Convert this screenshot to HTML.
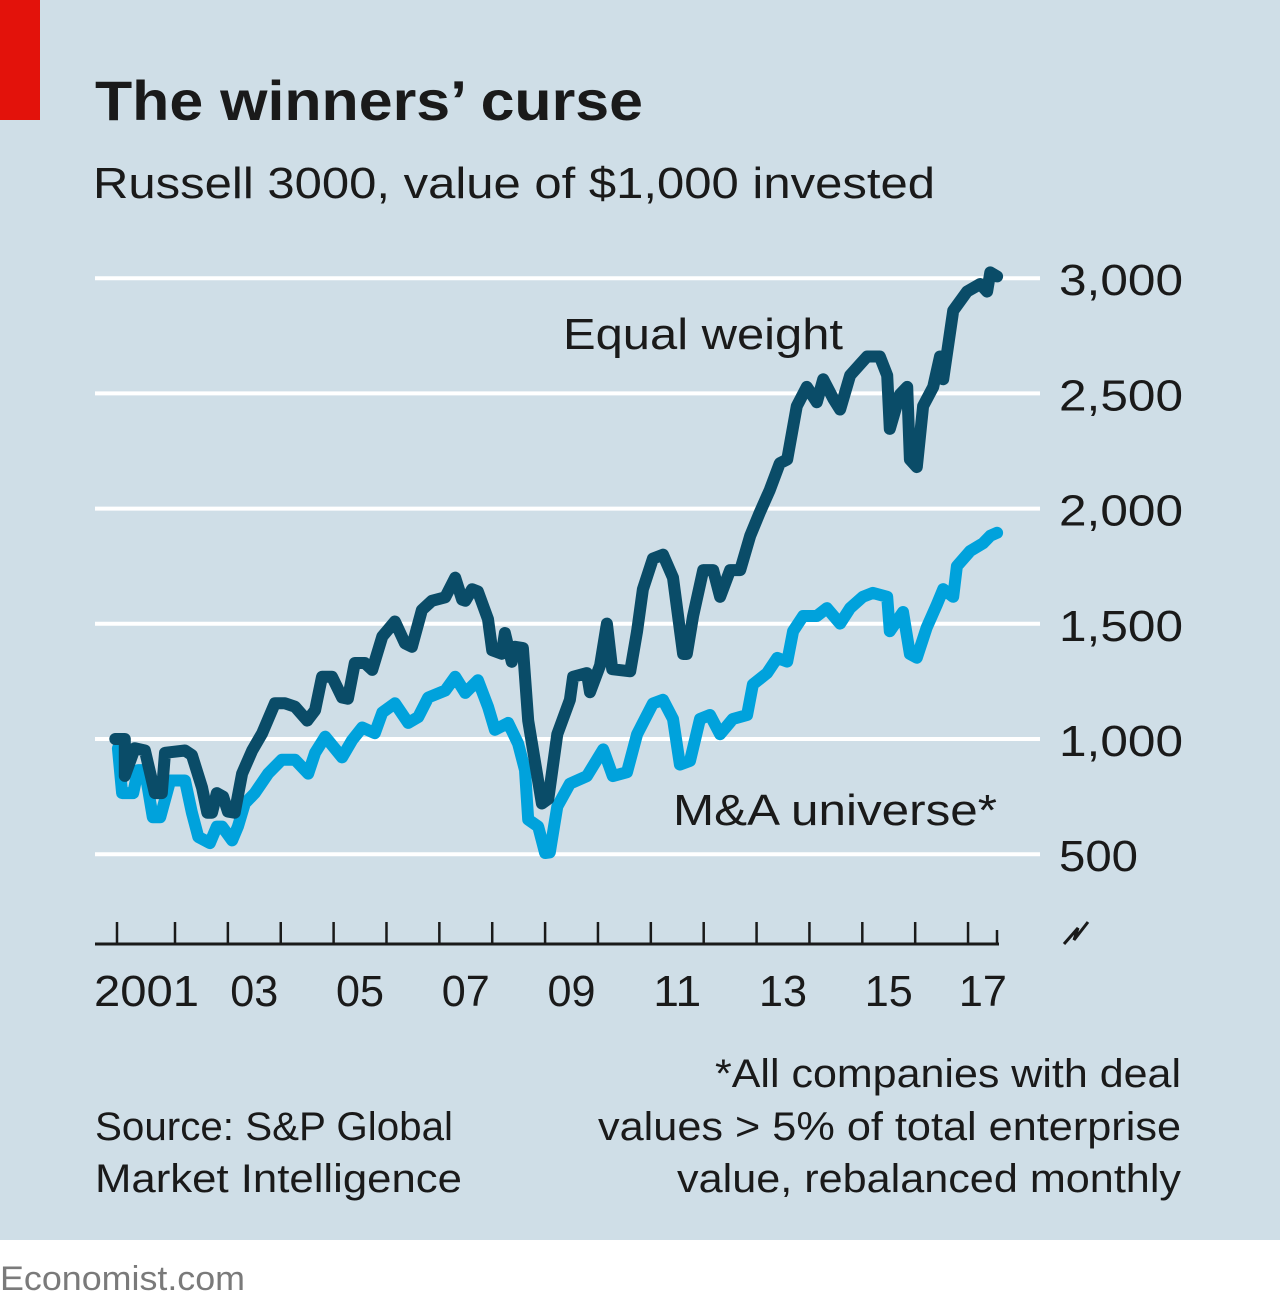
<!DOCTYPE html>
<html><head><meta charset="utf-8"><style>
html,body{margin:0;padding:0;background:#fff}
svg{display:block}
text{font-family:"Liberation Sans",sans-serif;fill:#1a1a1a}
</style></head><body>
<svg id="chart" width="1280" height="1316" viewBox="0 0 1280 1316">
<rect x="0" y="0" width="1280" height="1240" fill="#cfdee7"/>
<rect x="0" y="1240" width="1280" height="76" fill="#ffffff"/>
<rect x="0" y="0" width="40" height="120" fill="#e3120b"/>
<text x="95" y="120" font-size="56" font-weight="bold" textLength="548" lengthAdjust="spacingAndGlyphs">The winners’ curse</text>
<text x="93" y="198" font-size="44" textLength="842" lengthAdjust="spacingAndGlyphs">Russell 3000, value of $1,000 invested</text>
<g id="grid"></g>
<g id="ylabels"></g>
<g id="series"></g>
<g id="xaxis"></g>
<text x="563" y="349" font-size="44" textLength="280" lengthAdjust="spacingAndGlyphs">Equal weight</text>
<text x="673" y="825" font-size="44" textLength="324" lengthAdjust="spacingAndGlyphs">M&amp;A universe*</text>
<path d="M1064,944 L1078,928 L1074,940 L1088,922" fill="none" stroke="#1a1a1a" stroke-width="3"/>
<text x="95" y="1140" font-size="40" textLength="358" lengthAdjust="spacingAndGlyphs">Source: S&amp;P Global</text>
<text x="95" y="1192" font-size="40" textLength="367" lengthAdjust="spacingAndGlyphs">Market Intelligence</text>
<text x="1181" y="1087" font-size="40" text-anchor="end" textLength="466" lengthAdjust="spacingAndGlyphs">*All companies with deal</text>
<text x="1181" y="1140" font-size="40" text-anchor="end" textLength="583" lengthAdjust="spacingAndGlyphs">values &gt; 5% of total enterprise</text>
<text x="1181" y="1192" font-size="40" text-anchor="end" textLength="504" lengthAdjust="spacingAndGlyphs">value, rebalanced monthly</text>
<text x="0" y="1290" font-size="34" fill="#7a7a7a" style="fill:#7a7a7a" textLength="245" lengthAdjust="spacingAndGlyphs">Economist.com</text>
</svg>
<script>
const yTicks = [500, 1000, 1500, 2000, 2500, 3000];
const yTickLabels = ["500", "1,000", "1,500", "2,000", "2,500", "3,000"];
const xTickYears = [2001,2002,2003,2004,2005,2006,2007,2008,2009,2010,2011,2012,2013,2014,2015,2016,2017];
const xLabelYears = [2001,2003,2005,2007,2009,2011,2013,2015,2017];
const xLabelText = ["2001","03","05","07","09","11","13","15","17"];

const eqDates = [2000.87,2001.05,2001.05,2001.24,2001.43,2001.62,2001.75,2001.81,2002.19,2002.32,2002.51,2002.61,2002.70,2002.79,2002.91,2003.00,2003.13,2003.27,2003.46,2003.65,2003.89,2004.08,2004.27,2004.50,2004.65,2004.78,2004.97,2005.16,2005.27,2005.40,2005.59,2005.73,2005.92,2006.16,2006.35,2006.48,2006.67,2006.86,2007.11,2007.30,2007.43,2007.49,2007.62,2007.73,2007.92,2008.00,2008.18,2008.24,2008.37,2008.43,2008.58,2008.68,2008.81,2008.94,2009.06,2009.23,2009.47,2009.53,2009.79,2009.85,2010.04,2010.17,2010.27,2010.61,2010.74,2010.85,2011.04,2011.23,2011.42,2011.61,2011.68,2011.80,2011.99,2012.18,2012.31,2012.50,2012.69,2012.88,2013.06,2013.25,2013.44,2013.58,2013.76,2013.95,2014.14,2014.26,2014.45,2014.58,2014.77,2014.96,2015.09,2015.33,2015.47,2015.52,2015.71,2015.85,2015.90,2016.03,2016.15,2016.34,2016.47,2016.53,2016.72,2016.98,2017.23,2017.36,2017.42,2017.55];
const eqValues = [1000,1000,840,960,950,765,765,940,950,930,790,680,680,765,750,685,680,850,950,1025,1155,1155,1140,1080,1125,1270,1270,1180,1175,1330,1330,1300,1445,1510,1415,1400,1560,1600,1615,1700,1605,1600,1650,1640,1520,1385,1370,1460,1335,1400,1395,1080,900,720,740,1021,1170,1270,1286,1203,1320,1501,1303,1294,1468,1650,1783,1800,1700,1369,1369,1534,1733,1733,1617,1733,1733,1882,1982,2081,2197,2213,2445,2528,2462,2561,2478,2430,2578,2627,2660,2660,2578,2346,2495,2528,2213,2180,2445,2528,2660,2561,2859,2942,2975,2942,3025,3008];

const maDates = [2000.92,2001.00,2001.21,2001.30,2001.43,2001.58,2001.72,2001.91,2002.19,2002.32,2002.44,2002.66,2002.79,2002.89,2003.08,2003.19,2003.32,2003.51,2003.76,2004.02,2004.27,2004.52,2004.65,2004.84,2005.16,2005.35,2005.54,2005.78,2005.92,2006.16,2006.41,2006.60,2006.79,2007.11,2007.30,2007.49,2007.73,2007.92,2008.05,2008.30,2008.49,2008.62,2008.68,2008.87,2009.00,2009.09,2009.23,2009.47,2009.79,2010.10,2010.28,2010.55,2010.74,2011.04,2011.23,2011.42,2011.55,2011.74,2011.93,2012.12,2012.31,2012.55,2012.82,2012.93,2013.20,2013.39,2013.58,2013.69,2013.88,2014.14,2014.33,2014.58,2014.77,2015.01,2015.20,2015.47,2015.52,2015.77,2015.90,2016.03,2016.22,2016.41,2016.53,2016.72,2016.79,2017.04,2017.28,2017.42,2017.55];
const maValues = [960,765,765,865,865,660,660,820,820,680,575,548,620,620,560,620,720,765,850,910,910,850,940,1010,920,995,1050,1025,1115,1155,1070,1095,1180,1210,1270,1200,1255,1140,1040,1070,980,865,650,620,505,508,707,806,839,955,839,856,1021,1154,1170,1087,889,905,1087,1104,1021,1087,1104,1237,1286,1352,1336,1468,1534,1534,1568,1501,1568,1617,1634,1617,1468,1551,1369,1353,1485,1584,1650,1617,1750,1816,1849,1882,1895];

const NS = "http://www.w3.org/2000/svg";
function xScale(t){ return 175 + (t - 2002) * 52.87; }
function yScale(v){ return 739 - (v - 1000) * 115.2 / 500; }
function mk(tag, attrs){ const e = document.createElementNS(NS, tag); for (const k in attrs) e.setAttribute(k, attrs[k]); return e; }

const grid = document.getElementById('grid');
const ylabels = document.getElementById('ylabels');
yTicks.forEach((v, i) => {
  const l = mk('line', {x1:95, x2:1040, y1:yScale(v), y2:yScale(v), stroke:'#ffffff', 'stroke-width':4});
  
  
  grid.appendChild(l);
  const t = mk('text', {x:1059, y:yScale(v)+17, 'font-size':44});
  
  
  t.setAttribute('textLength', yTickLabels[i].length > 3 ? 124 : 79);
  t.setAttribute('lengthAdjust', 'spacingAndGlyphs');
  t.textContent = yTickLabels[i];
  ylabels.appendChild(t);
});

const series = document.getElementById('series');
function drawLine(dates, vals, color, name){
  let d = '';
  dates.forEach((t, i) => { d += (i ? 'L' : 'M') + xScale(t).toFixed(1) + ',' + yScale(vals[i]).toFixed(1); });
  const p = mk('path', {d:d, fill:'none', stroke:color, 'stroke-width':12, 'stroke-linejoin':'round', 'stroke-linecap':'round'});
  
  
  series.appendChild(p);
}
drawLine(maDates, maValues, '#00a2dc', 'ma-universe-line');
drawLine(eqDates, eqValues, '#0a4c68', 'equal-weight-line');

const xaxis = document.getElementById('xaxis');
const base = mk('line', {x1:95, x2:999, y1:944, y2:944, stroke:'#1a1a1a', 'stroke-width':3});


xaxis.appendChild(base);
xTickYears.forEach(y => {
  const x = y === 2001 ? 117 : xScale(y);
  const tk = mk('line', {x1:x, x2:x, y1:922, y2:944, stroke:'#1a1a1a', 'stroke-width':2.5});
  
  
  xaxis.appendChild(tk);
});
const endTk = mk('line', {x1:997, x2:997, y1:930, y2:944, stroke:'#1a1a1a', 'stroke-width':2.5});


xaxis.appendChild(endTk);
xLabelYears.forEach((y, i) => {
  let cx = xScale(y + 0.5);
  if (y === 2001) cx -= 2;
  if (y === 2017) cx = xScale(y + 0.28);
  const t = mk('text', {x:cx, y:1006, 'font-size':44, 'text-anchor':'middle'});
  
  
  t.setAttribute('textLength', xLabelText[i].length === 4 ? 105 : 48);
  t.setAttribute('lengthAdjust', 'spacingAndGlyphs');
  t.textContent = xLabelText[i];
  xaxis.appendChild(t);
});
</script>
</body></html>
